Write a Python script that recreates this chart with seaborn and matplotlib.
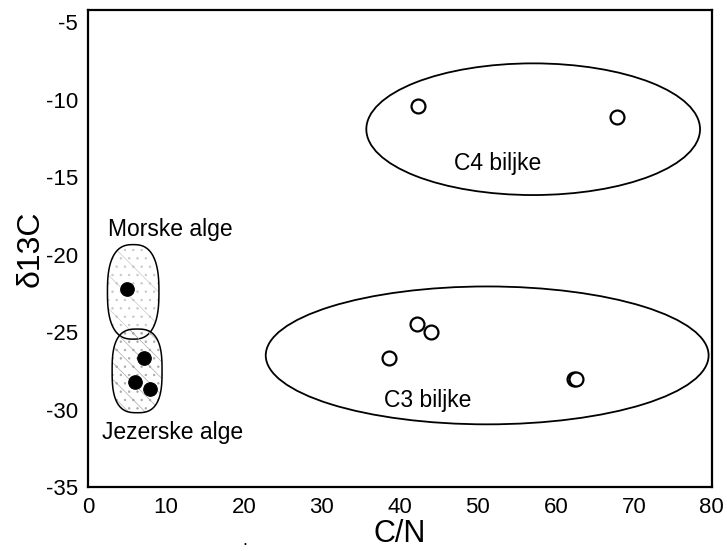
import matplotlib
matplotlib.use("Agg")
import matplotlib.pyplot as plt
import numpy as np
import pandas as pd
import seaborn as sns
from matplotlib.patches import Ellipse, Polygon

sns.set_style("white")
plt.rcParams["font.family"] = ["Liberation Sans", "DejaVu Sans"]
plt.rcParams["hatch.linewidth"] = 0.5
plt.rcParams["axes.unicode_minus"] = False
plt.rcParams["text.color"] = "black"
plt.rcParams["axes.labelcolor"] = "black"
plt.rcParams["xtick.color"] = "black"
plt.rcParams["ytick.color"] = "black"

# alge (puni krugovi)
alge_cn = [5.0, 7.2, 6.0, 8.0]
alge_d13c = [-22.2, -26.7, -28.2, -28.7]

# biljke (prazni krugovi)
biljke_cn = [42.3, 67.9, 42.2, 44.0, 38.6, 62.3, 62.6]
biljke_d13c = [-10.4, -11.1, -24.5, -25.0, -26.7, -28.0, -28.0]

df_alge = pd.DataFrame({"cn": alge_cn, "d13c": alge_d13c})
df_biljke = pd.DataFrame({"cn": biljke_cn, "d13c": biljke_d13c})

fig = plt.figure(figsize=(7.27, 5.51), dpi=100)
ax = fig.add_axes([0.121, 0.116, 0.858, 0.866])


def zaobljeni(cx, cy, w, h, n=4.0):
    # superelipsa za skupine algi
    t = np.linspace(0, 2 * np.pi, 200)
    c, s = np.cos(t), np.sin(t)
    x = np.sign(c) * np.abs(c) ** (2 / n) * w / 2
    y = np.sign(s) * np.abs(s) ** (2 / n) * h / 2
    return np.column_stack([cx + x, cy + y])


# obrisi skupina
ax.add_patch(Ellipse((57.1, -11.9), 42.8, 8.5, fill=False, lw=1.3, ec="black"))
ax.add_patch(Ellipse((51.2, -26.5), 56.8, 8.9, fill=False, lw=1.3, ec="black"))
morske = zaobljeni(5.8, -22.4, 6.6, 6.1, n=2.6)
jezerske = zaobljeni(6.3, -27.5, 6.4, 5.4, n=2.8)
ax.add_patch(Polygon(morske, closed=True, facecolor="none",
                     edgecolor="#c8c8c8", hatch="..\\", lw=0))
ax.add_patch(Polygon(morske, closed=True, fill=False, edgecolor="black", lw=1.1))
ax.add_patch(Polygon(jezerske, closed=True, facecolor="none",
                     edgecolor="#aaaaaa", hatch="\\\\..", lw=0))
ax.add_patch(Polygon(jezerske, closed=True, fill=False, edgecolor="black", lw=1.1))

sns.scatterplot(data=df_alge, x="cn", y="d13c", ax=ax, color="black",
                s=95, edgecolor="black", linewidth=0.8, zorder=3)
sns.scatterplot(data=df_biljke, x="cn", y="d13c", ax=ax, facecolor="white",
                s=100, edgecolor="black", linewidth=1.6, zorder=3)

ax.text(10.6, -18.4, "Morske alge", ha="center", va="center", fontsize=16.5)
ax.text(10.9, -31.5, "Jezerske alge", ha="center", va="center", fontsize=16.5)
ax.text(52.5, -14.1, "C4 biljke", ha="center", va="center", fontsize=16.5)
ax.text(43.6, -29.4, "C3 biljke", ha="center", va="center", fontsize=16.5)

ax.set_xlim(0, 80)
ax.set_ylim(-35, -4.2)
ax.set_xticks(range(0, 81, 10))
ax.set_yticks(range(-35, -4, 5))
ax.tick_params(axis="both", labelsize=16, length=0)
ax.tick_params(axis="x", pad=7)
ax.tick_params(axis="y", pad=7)
ax.set_xlabel("C/N", fontsize=22, labelpad=1)
ax.set_ylabel("δ13C", fontsize=23, labelpad=0)

for sp in ax.spines.values():
    sp.set_color("black")
    sp.set_linewidth(1.6)

fig.text(0.334, 0.01, ".", fontsize=13)

plt.savefig("out.png", dpi=100)
